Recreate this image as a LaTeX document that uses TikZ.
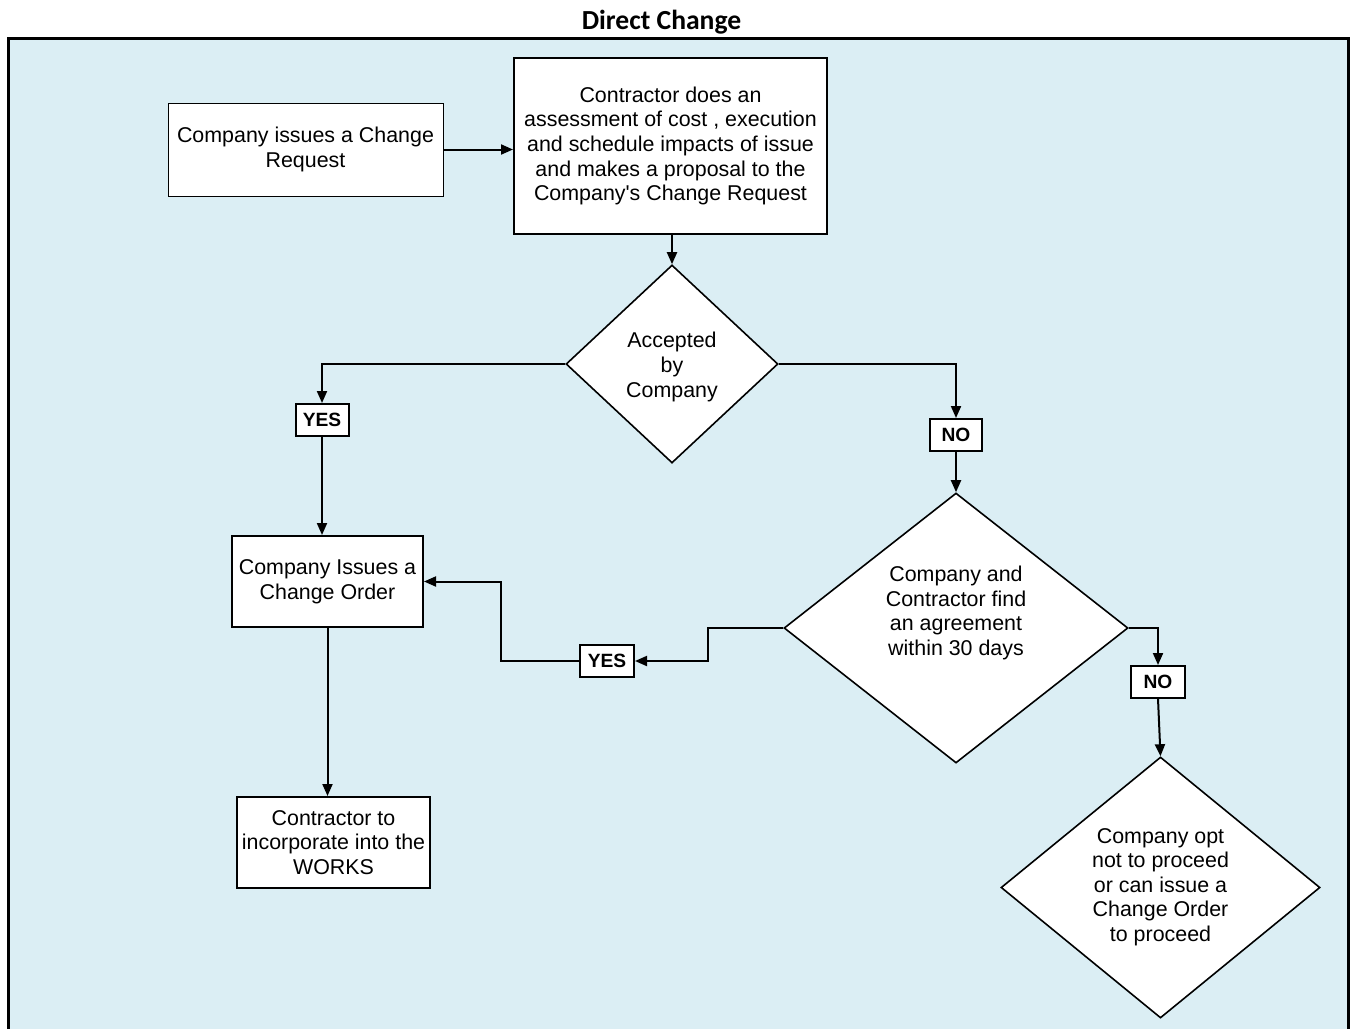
\documentclass[tikz,border=0pt]{standalone}
\usepackage{fontspec}
\setmainfont{Liberation Sans}
\newfontfamily\titlefont{Carlito}
\usetikzlibrary{shapes.geometric,arrows.meta}
\definecolor{bgblue}{RGB}{219,238,244}
\tikzset{
  body/.style={font={\fontsize{10.7}{12.3}\selectfont}, align=center},
  procbox/.style={draw, fill=white, line width=1pt, inner sep=0pt, body},
  decision/.style={draw, fill=white, diamond, line width=0.8pt, inner sep=0pt, aspect=1},
  tag/.style={draw, fill=white, line width=1pt, inner sep=0pt, font={\bfseries\fontsize{9.6}{11}\selectfont}},
  arr/.style={line width=1pt, -{Triangle[length=6pt,width=5pt]}},
}
\begin{document}
\begin{tikzpicture}[x=0.5pt,y=-0.5pt]
\useasboundingbox (0,0) rectangle (1352,1028);
\fill[bgblue] (8,38) rectangle (1348,1040);
\draw[line width=1.5pt] (8,1040) -- (8,38) -- (1348,38) -- (1348,1040);
\node[font={\titlefont\bfseries\fontsize{13.8}{16}\selectfont}] (title) at (661.5,22) {Direct Change};

\node[procbox, line width=0.5pt, minimum width=137.5pt, minimum height=46.5pt] (A) at (305.5,149.5) {Company issues a Change\\Request};
\node[procbox, minimum width=156.5pt, minimum height=88pt] (B) at (670.5,146) {Contractor does an\\assessment of cost , execution\\and schedule impacts of issue\\and makes a proposal to the\\Company\textquotesingle s Change Request};
\node[decision, minimum width=106pt, minimum height=99pt] (D1) at (672,364) {};
\node[body] (D1t) at (672,367) {Accepted\\by\\Company};
\node[tag, minimum width=26.5pt, minimum height=16pt] (Y1) at (322,420) {YES};
\node[tag, minimum width=26pt, minimum height=16pt] (N1) at (956,435) {NO};
\node[procbox, minimum width=95.5pt, minimum height=45.5pt] (C) at (327.5,581.5) {Company Issues a\\Change Order};
\node[decision, minimum width=172pt, minimum height=135pt] (D2) at (956,628) {};
\node[body] (D2t) at (956,613) {Company and\\Contractor find\\an agreement\\within 30 days};
\node[tag, minimum width=27pt, minimum height=16pt] (Y2) at (607,661) {YES};
\node[tag, minimum width=27pt, minimum height=16pt] (N2) at (1158,682) {NO};
\node[decision, minimum width=159.5pt, minimum height=130.5pt] (D3) at (1160.5,887.5) {};
\node[body] (D3t) at (1160.5,887) {Company opt\\not to proceed\\or can issue a\\Change Order\\to proceed};
\node[procbox, minimum width=96.5pt, minimum height=45.5pt] (E) at (333.5,842.5) {Contractor to\\incorporate into the\\WORKS};

\draw[arr] (A.east) -- (A.east -| B.west);
\draw[arr] (D1.north |- B.south) -- (D1.north);
\draw[arr] (D1.west) -| (Y1.north);
\draw[arr] (Y1.south) -- (Y1.south |- C.north);
\draw[arr] (D1.east) -| (N1.north);
\draw[arr] (N1.south) -- (D2.north);
\draw[arr] (D2.west) -- ++(-75,0) |- (Y2.east);
\draw[arr] (Y2.west) -- ++(-78,0) |- (C.east);
\draw[arr] (D2.east) -| (N2.north);
\draw[arr] (N2.south) -- (D3.north);
\draw[arr] (C.south) -- (C.south |- E.north);
\end{tikzpicture}
\end{document}
